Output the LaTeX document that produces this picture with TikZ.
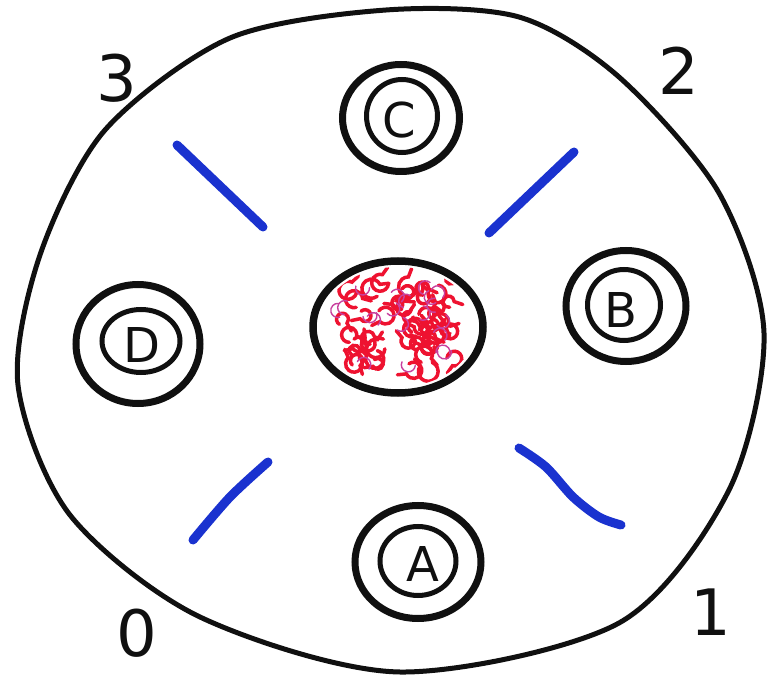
\documentclass[tikz,border=0pt]{standalone}
\usepackage{fontspec}
\setmainfont{DejaVu Sans}
\usetikzlibrary{shapes.geometric}
\definecolor{ink}{HTML}{101010}
\definecolor{rod}{HTML}{1A32CF}
\definecolor{chrom}{HTML}{EE1230}
\definecolor{chrompink}{HTML}{C8409E}
\tikzset{
  wall/.style={draw=ink, line width=5pt, line join=round},
  ring/.style={ellipse, draw=ink, line width=7pt, inner sep=0pt},
  innerring/.style={ellipse, draw=ink, line width=5pt, inner sep=0pt},
  nucleus/.style={ellipse, draw=ink, line width=7.5pt, inner sep=0pt},
  letter/.style={font=\fontsize{48}{48}\selectfont, text=ink, inner sep=0pt},
  corner/.style={font=\fontsize{64}{64}\selectfont, text=ink, inner sep=0pt},
  rodline/.style={draw=rod, line width=9pt, line cap=round, line join=round},
  curl/.style={draw=chrom, line width=3.5pt, line cap=round},
  thincurl/.style={draw=chrompink, line width=1.4pt, line cap=round},
}

\begin{document}
\begin{tikzpicture}[x=1pt, y=-1pt]
\useasboundingbox (0,0) rectangle (772,679);
\draw[wall] plot[smooth cycle] coordinates {(386,10) (519,17) (619,77) (719,193) (764,333) (729,490) (619,623) (400,672) (200,617) (70,515) (18,385) (40,255) (105,130) (230,38)};

\node[nucleus, minimum width=170, minimum height=132] (nuc) at (398,327) {};
\begin{scope}
\clip (nuc.center) ellipse [x radius=78, y radius=60];
\pgfmathsetseed{11}
\foreach \i in {1,...,48}{
  \pgfmathsetmacro{\cx}{397+58*rand}
  \pgfmathsetmacro{\cy}{327+45*rand}
  \pgfmathsetmacro{\ca}{360*rnd}
  \pgfmathsetmacro{\cr}{5+5*rnd}
  \draw[curl] (\cx,\cy) arc[start angle=\ca, end angle=\ca+280, radius=\cr] -- ++(\ca+300:9);
}
\foreach \i in {1,...,20}{
  \pgfmathsetmacro{\cx}{397+58*rand}
  \pgfmathsetmacro{\cy}{327+45*rand}
  \pgfmathsetmacro{\ca}{360*rnd}
  \draw[thincurl] (\cx,\cy) arc[start angle=\ca, end angle=\ca+200, radius=7];
}
\end{scope}

\node[ring, minimum width=117, minimum height=107] (ringC) at (401,118) {};
\node[innerring, minimum width=71, minimum height=73] (coreC) at (402,116) {};
\node[letter] (C) at (399,120) {C};

\node[ring, minimum width=120, minimum height=111] (ringB) at (626,306) {};
\node[innerring, minimum width=73, minimum height=71] (coreB) at (624,305) {};
\node[letter] (B) at (621,310) {B};

\node[ring, minimum width=124, minimum height=119] (ringD) at (138,344) {};
\node[innerring, minimum width=78, minimum height=63] (coreD) at (141,341) {};
\node[letter] (D) at (142,345) {D};

\node[ring, minimum width=126, minimum height=113] (ringA) at (418,562) {};
\node[innerring, minimum width=76, minimum height=69] (coreA) at (418,561) {};
\node[letter] (A) at (423,564) {A};

\draw[rodline] (177,145) -- (263,227);
\draw[rodline] (574,152) -- (489,233);
\draw[rodline] plot[smooth] coordinates {(268,462) (230,497) (193,540)};
\draw[rodline] plot[smooth] coordinates {(519,448) (546,467) (573,497) (599,517) (621,525)};

\node[corner] (n3) at (117,78) {3};
\node[corner] (n2) at (679,71) {2};
\node[corner] (n1) at (711,612) {1};
\node[corner] (n0) at (137,633) {0};
\end{tikzpicture}
\end{document}
